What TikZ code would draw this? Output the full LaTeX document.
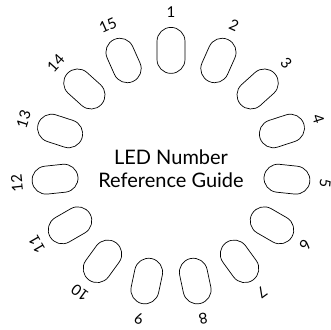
\documentclass[tikz,border=0pt]{standalone}
\usepackage{fontspec}
\setmainfont{Lato}
\begin{document}
\begin{tikzpicture}[x=1pt,y=1pt,
    led/.style={draw, line width=0.7pt, rounded corners=14pt, minimum width=46pt, minimum height=28pt, inner sep=0pt},
    ledlabel/.style={font=\fontsize{15}{15}\selectfont, inner sep=0pt}]
      \useasboundingbox (0,0) rectangle (331,329);
      \coordinate (c) at (171,162);
      \node[align=center, font=\fontsize{20}{23}\selectfont] (title) at ([yshift=-2pt]c) {LED Number\\Reference Guide};
      \foreach \i in {1,...,15} {
        \pgfmathsetmacro{\a}{90-24*(\i-1)}
        \node[led, rotate=\a] (led\i) at ([shift={(\a:116.6)}]c) {};
        \node[ledlabel, rotate=\a-90] (lbl\i) at ([shift={(\a:155)}]c) {\i};
      }
    \end{tikzpicture}
\end{document}
